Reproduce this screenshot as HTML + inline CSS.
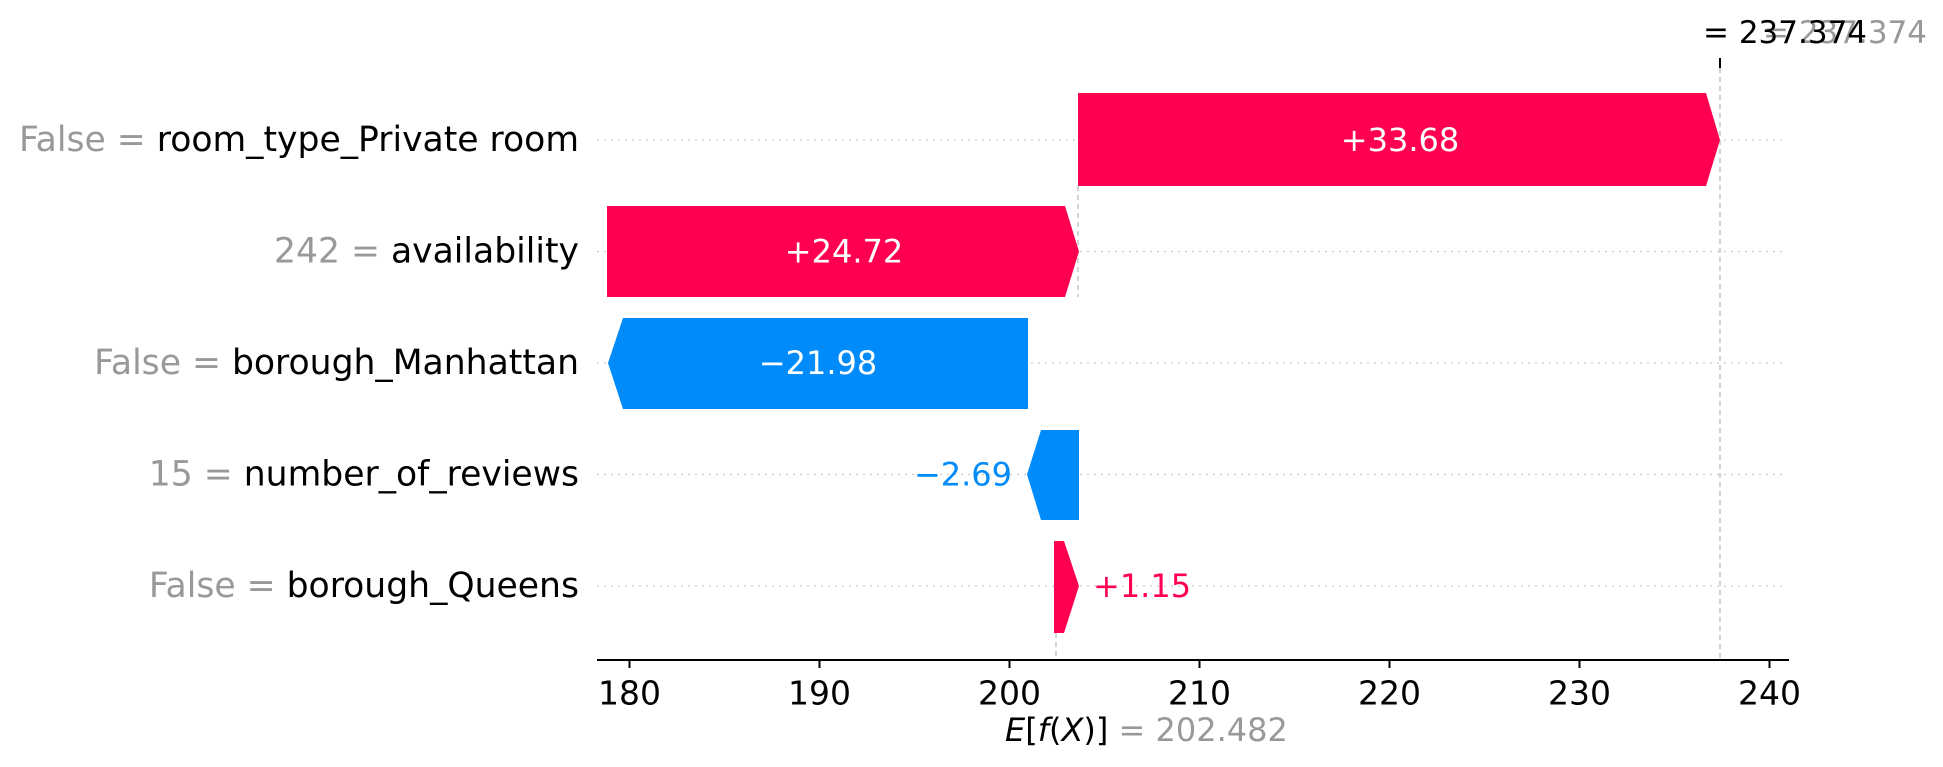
<!DOCTYPE html>
<html><head><meta charset="utf-8"><style>
html,body{margin:0;padding:0;background:#fff;}
svg{display:block;font-family:"DejaVu Sans","Liberation Sans",sans-serif;}
</style></head><body>
<svg width="1943" height="767" viewBox="0 0 1943 767" xmlns="http://www.w3.org/2000/svg">
<g stroke="#ccc" stroke-width="1.3" stroke-dasharray="2,5">
<line x1="597" y1="140" x2="1784" y2="140"/>
<line x1="597" y1="251.5" x2="1784" y2="251.5"/>
<line x1="597" y1="363" x2="1784" y2="363"/>
<line x1="597" y1="474.5" x2="1784" y2="474.5"/>
<line x1="597" y1="586" x2="1784" y2="586"/>
</g>
<g stroke="#bbb" stroke-width="1.3" stroke-dasharray="5,4">
<line x1="1720" y1="68" x2="1720" y2="660"/>
<line x1="1078" y1="186" x2="1078" y2="297"/>
<line x1="1056" y1="633" x2="1056" y2="660"/>
</g>
<line x1="1720" y1="58" x2="1720" y2="68" stroke="#000" stroke-width="2"/>
<polygon fill="#ff0051" points="1078,93 1706,93 1720,140 1706,186 1078,186"/>
<polygon fill="#ff0051" points="607,206 1065,206 1079,251.5 1065,297 607,297"/>
<polygon fill="#008bfb" points="1028,318 623,318 608,363 623,409 1028,409"/>
<polygon fill="#008bfb" points="1079,430 1041,430 1027,474.5 1041,520 1079,520"/>
<polygon fill="#ff0051" points="1054,541 1064,541 1079,586 1064,633 1054,633"/>
<g font-size="32" dominant-baseline="central">
<text x="1400" y="140" fill="#fff" text-anchor="middle">+33.68</text>
<text x="844" y="251.5" fill="#fff" text-anchor="middle">+24.72</text>
<text x="818" y="363" fill="#fff" text-anchor="middle">−21.98</text>
<text x="1012" y="474.5" fill="#008bfb" text-anchor="end">−2.69</text>
<text x="1093" y="586" fill="#ff0051" text-anchor="start">+1.15</text>
</g>
<g font-size="34.6" text-anchor="end" dominant-baseline="central">
<text x="579" y="140"><tspan fill="#999">False = </tspan><tspan fill="#000">room_type_Private room</tspan></text>
<text x="579" y="251.5"><tspan fill="#999">242 = </tspan><tspan fill="#000">availability</tspan></text>
<text x="579" y="363"><tspan fill="#999">False = </tspan><tspan fill="#000">borough_Manhattan</tspan></text>
<text x="579" y="474.5"><tspan fill="#999">15 = </tspan><tspan fill="#000">number_of_reviews</tspan></text>
<text x="579" y="586"><tspan fill="#999">False = </tspan><tspan fill="#000">borough_Queens</tspan></text>
</g>
<line x1="597" y1="660" x2="1789" y2="660" stroke="#000" stroke-width="2"/>
<g stroke="#000" stroke-width="2">
<line x1="629.5" y1="660" x2="629.5" y2="668"/>
<line x1="819.5" y1="660" x2="819.5" y2="668"/>
<line x1="1009.5" y1="660" x2="1009.5" y2="668"/>
<line x1="1199.5" y1="660" x2="1199.5" y2="668"/>
<line x1="1389.5" y1="660" x2="1389.5" y2="668"/>
<line x1="1579.5" y1="660" x2="1579.5" y2="668"/>
<line x1="1769.5" y1="660" x2="1769.5" y2="668"/>
</g>
<g font-size="33" text-anchor="middle" dominant-baseline="central" fill="#000">
<text x="629.5" y="693">180</text>
<text x="819.5" y="693">190</text>
<text x="1009.5" y="693">200</text>
<text x="1199.5" y="693">210</text>
<text x="1389.5" y="693">220</text>
<text x="1579.5" y="693">230</text>
<text x="1769.5" y="693">240</text>
</g>
<text x="1005" y="730" font-size="32" dominant-baseline="central"><tspan font-style="italic" fill="#000">E</tspan><tspan fill="#000">[</tspan><tspan font-style="italic">f</tspan><tspan>(</tspan><tspan font-style="italic">X</tspan><tspan>)]</tspan><tspan fill="#999"> = 202.482</tspan></text>
<text x="1763" y="43" font-size="31" fill="#999">= 237.374</text>
<text x="1703" y="43" font-size="31" fill="#000">= 237.374</text>
</svg>
</body></html>
